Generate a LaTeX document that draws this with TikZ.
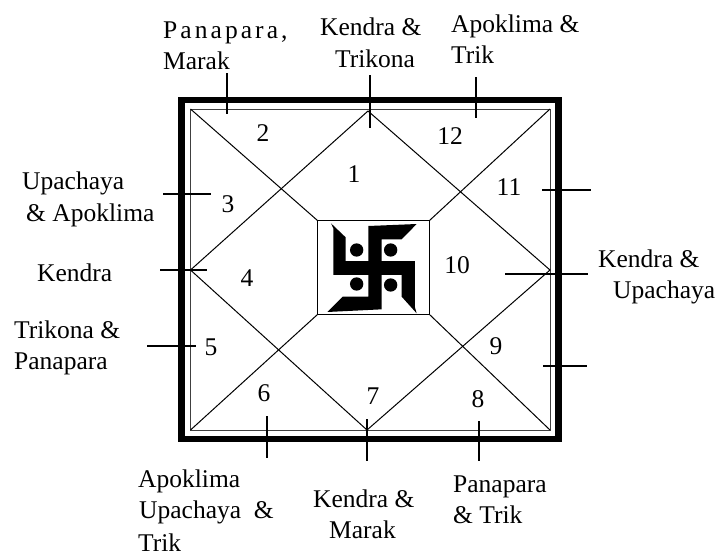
\documentclass[tikz,border=0pt]{standalone}
\usepackage{fontspec}
\setmainfont{Liberation Serif}
\tikzset{
  lbl/.style={font=\fontsize{25.5}{28}\selectfont,inner sep=0pt,anchor=base west},
  num/.style={font=\fontsize{25.5}{28}\selectfont,inner sep=0pt},
  frameout/.style={draw=black,line width=6.5pt},
  framein/.style={draw=black!75,line width=1pt},
  thin line/.style={draw=black,line width=1pt},
  tick/.style={draw=black,line width=2pt},
}
\begin{document}
\begin{tikzpicture}[x=1pt,y=-1pt]
\useasboundingbox (0,0) rectangle (721,558);
\draw[frameout] (181.5,100) rectangle (558.5,439);
\draw[framein] (190.5,109) rectangle (550,430);
\coordinate (tl) at (190.5,109); \coordinate (tr) at (550,109);
\coordinate (bl) at (190.5,430); \coordinate (br) at (550,430);
\coordinate (mt) at (368,111); \coordinate (mr) at (550,270);
\coordinate (mb) at (367,430); \coordinate (ml) at (190.5,270);
\node[draw=black,line width=1pt,minimum width=111pt,minimum height=93pt,inner sep=0pt] (c) at (373.5,267.5) {};
\draw[thin line] (tl) -- (c.north west) (tr) -- (c.north east) (bl) -- (c.south west) (br) -- (c.south east);
\draw[thin line] (mt) -- (ml) -- (mb) -- (mr) -- cycle;
\fill[white] (c.south west) rectangle (c.north east);
\draw[black,line width=1pt] (c.south west) rectangle (c.north east);
% swastika
\begin{scope}[shift={(300,200)},x=0.3333pt,y=-0.3333pt]
\fill[black] (93,70)--(137,112)--(137,183)--(205,183)--(205,78)--(350,72)--(305,118)--(245,118)--(245,183)--(345,183)--(345,322)--(350,340)--(305,290)--(305,225)--(245,225)--(245,328)--(82,336)--(128,290)--(205,290)--(205,225)--(100,225)--(100,85)--cycle;
\fill[black] (170,150) circle[radius=20] (272,150) circle[radius=20] (170,252) circle[radius=20] (272,255) circle[radius=20];
\end{scope}
% ticks
\coordinate (t1a) at (227,73); \coordinate (t1b) at (227,114);
\coordinate (t2a) at (370,75); \coordinate (t2b) at (370,128);
\coordinate (t3a) at (476,77); \coordinate (t3b) at (476,118);
\coordinate (t4a) at (542,190); \coordinate (t4b) at (591,190);
\coordinate (t5a) at (505,273.5); \coordinate (t5b) at (588,273.5);
\coordinate (t6a) at (543,366); \coordinate (t6b) at (587,366);
\coordinate (t7a) at (479,421); \coordinate (t7b) at (479,461);
\coordinate (t8a) at (367,419); \coordinate (t8b) at (367,461);
\coordinate (t9a) at (267,416); \coordinate (t9b) at (267,458);
\coordinate (t10a) at (147,346); \coordinate (t10b) at (196,346);
\coordinate (t11a) at (160,270); \coordinate (t11b) at (207,270);
\coordinate (t12a) at (163,194); \coordinate (t12b) at (211,194);
\foreach \i in {1,...,12} \draw[tick] (t\i a) -- (t\i b);
% numbers
\node[num] (n1) at (354,174) {1};
\node[num] (n2) at (263,133) {2};
\node[num] (n3) at (228,204) {3};
\node[num] (n4) at (247,278) {4};
\node[num] (n5) at (211,347) {5};
\node[num] (n6) at (264,393) {6};
\node[num] (n7) at (373,396) {7};
\node[num] (n8) at (478,399) {8};
\node[num] (n9) at (496,346) {9};
\node[num] (n10) at (457,265) {10};
\node[num] (n11) at (509,187) {11};
\node[num] (n12) at (450,136) {12};
% labels
\node[lbl] (l1) at (163,38) {\addfontfeature{LetterSpace=12}Panapara,};
\node[lbl] (l1b) at (163,69) {Marak};
\node[lbl] (l2) at (320,35) {Kendra \&};
\node[lbl] (l2b) at (335,67) {Trikona};
\node[lbl] (l3) at (451,32) {Apoklima \&};
\node[lbl] (l3b) at (451,63) {Trik};
\node[lbl] (l4) at (22,189) {Upachaya};
\node[lbl] (l4b) at (26,221) {\& Apoklima};
\node[lbl] (l5) at (37,281) {Kendra};
\node[lbl] (l6) at (14,338) {Trikona \&};
\node[lbl] (l6b) at (14,369) {Panapara};
\node[lbl] (l7) at (598,267) {Kendra \&};
\node[lbl] (l7b) at (613,298) {Upachaya};
\node[lbl] (l8) at (453,492) {Panapara};
\node[lbl] (l8b) at (453,523) {\& Trik};
\node[lbl] (l9) at (313,507) {Kendra \&};
\node[lbl] (l9b) at (329,538) {Marak};
\node[lbl] (l10) at (138,487) {Apoklima};
\node[lbl] (l10b) at (139,518) {Upachaya \ \&};
\node[lbl] (l10c) at (138,551) {Trik};
\end{tikzpicture}
\end{document}
